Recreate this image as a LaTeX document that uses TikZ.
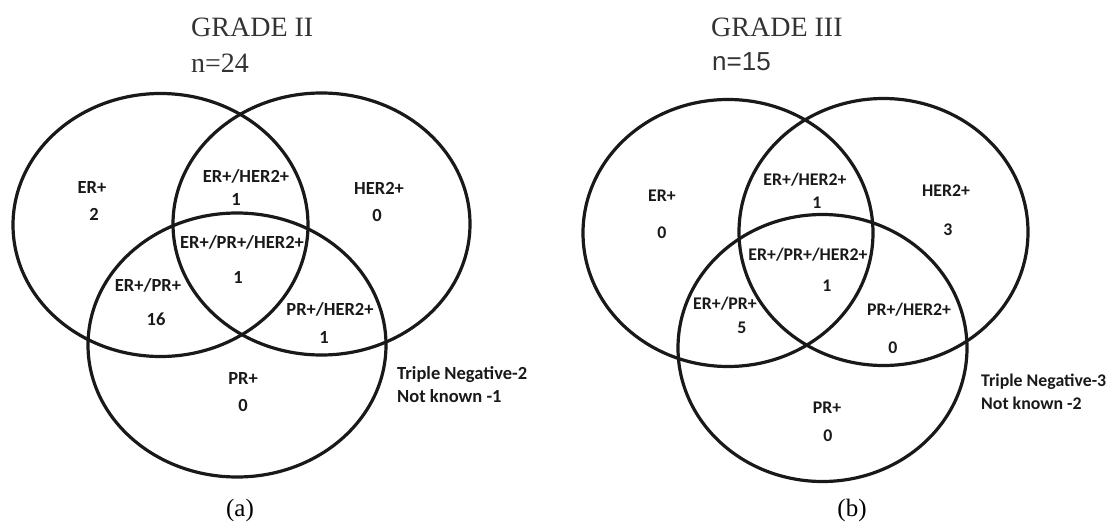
\documentclass[tikz,border=0pt]{standalone}
\usepackage{fontspec}
\setmainfont{Liberation Serif}
\newfontfamily\lblfont{Carlito}
\newfontfamily\arialfont{Liberation Sans}
\usetikzlibrary{shapes.geometric}
\definecolor{ink}{RGB}{25,25,25}
\tikzset{
  setring/.style={ellipse, draw=ink, line width=3.2pt, inner sep=0pt},
  lbl/.style={font=\lblfont\bfseries\fontsize{18.5}{20}\selectfont, text=ink, inner sep=0pt},
  lblb/.style={font=\lblfont\bfseries\fontsize{17.8}{20}\selectfont, text=ink, inner sep=0pt},
  ttl/.style={font=\fontsize{28}{30}\selectfont, text=black!80, inner sep=0pt, anchor=west},
  subcap/.style={font=\fontsize{25}{27}\selectfont, text=black, inner sep=0pt},
  note/.style={lbl, anchor=west},
  noteb/.style={lblb, anchor=west}
}
\begin{document}
\begin{tikzpicture}[x=1pt,y=-1pt]
\useasboundingbox (0,0) rectangle (1106,527);
% ---------- (a) ----------
\node[setring, minimum width=295pt, minimum height=263pt] (erA) at (160.5,225) {};
\node[setring, minimum width=297pt, minimum height=262pt] (herA) at (321.5,224) {};
\node[setring, minimum width=298pt, minimum height=264pt] (prA) at (237,345) {};
\node[ttl] (tA) at (191,27) {GRADE II};
\node[ttl] (nA) at (191,63) {n=24};
\node[lbl] (a1) at (92,188) {ER+};
\node[lbl] (a2) at (94,214) {2};
\node[lbl] (a3) at (246,176) {ER+/HER2+};
\node[lbl] (a4) at (236,199) {1};
\node[lbl] (a5) at (379,188) {HER2+};
\node[lbl] (a6) at (377,215) {0};
\node[lbl] (a7) at (242,242) {ER+/PR+/HER2+};
\node[lbl] (a8) at (238,277) {1};
\node[lbl] (a9) at (148,285) {ER+/PR+};
\node[lbl] (a10) at (156,319) {16};
\node[lbl] (a11) at (330,309) {PR+/HER2+};
\node[lbl] (a12) at (324,337) {1};
\node[lbl] (a13) at (243,378) {PR+};
\node[lbl] (a14) at (243,405) {0};
\node[note] (a15) at (397,375) {Triple Negative-2};
\node[note] (a16) at (397,396) {Not known -1};
\node[subcap] (capA) at (240,510) {(a)};
% ---------- (b) ----------
\node[setring, minimum width=290pt, minimum height=267pt] (erB) at (728,233) {};
\node[setring, minimum width=289pt, minimum height=267pt] (herB) at (883.5,232) {};
\node[setring, minimum width=289pt, minimum height=267pt] (prB) at (822.5,348) {};
\node[ttl] (tB) at (711,27) {GRADE III};
\node[ttl, font=\arialfont\fontsize{26}{28}\selectfont] (nB) at (712,62) {n=15};
\node[lblb] (b1) at (662,196) {ER+};
\node[lblb] (b2) at (662,233) {0};
\node[lblb] (b3) at (805,180) {ER+/HER2+};
\node[lblb] (b4) at (817,203) {1};
\node[lblb] (b5) at (946,191) {HER2+};
\node[lblb] (b6) at (948,230) {3};
\node[lblb] (b7) at (808,255) {ER+/PR+/HER2+};
\node[lblb] (b8) at (827,286) {1};
\node[lblb] (b9) at (725,304) {ER+/PR+};
\node[lblb] (b10) at (742,328) {5};
\node[lblb] (b11) at (909,310) {PR+/HER2+};
\node[lblb] (b12) at (893,348) {0};
\node[lblb] (b13) at (827,408) {PR+};
\node[lblb] (b14) at (828,436) {0};
\node[noteb] (b15) at (981,382) {Triple Negative-3};
\node[noteb] (b16) at (981,403) {Not known -2};
\node[subcap] (capB) at (852,510) {(b)};
\end{tikzpicture}
\end{document}
